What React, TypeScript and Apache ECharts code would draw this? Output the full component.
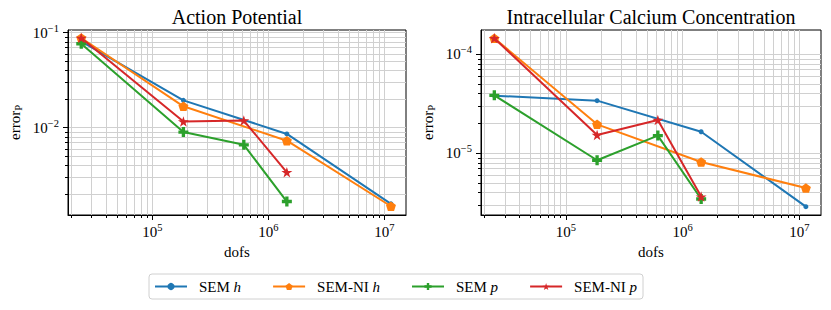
import React, { useEffect, useRef } from "react";
import * as echarts from "echarts";

const FONT = "'Liberation Serif', 'Times New Roman', serif";

const dofsH = [24389, 185193, 1442897, 11390625];
const dofsP = [24389, 185193, 614125, 1442897];

const apSemH = [0.081, 0.0194, 0.0086, 0.00158];
const apSemNiH = [0.088, 0.0168, 0.0073, 0.00149];
const apSemP = [0.0766, 0.009, 0.0066, 0.00167];
const apSemNiP = [0.088, 0.0116, 0.0119, 0.00339];

const caSemH = [3.82e-5, 3.4e-5, 1.65e-5, 2.89e-6];
const caSemNiH = [1.45e-4, 1.96e-5, 8.17e-6, 4.45e-6];
const caSemP = [3.85e-5, 8.5e-6, 1.51e-5, 3.45e-6];
const caSemNiP = [1.45e-4, 1.53e-5, 2.17e-5, 3.65e-6];

const xMajor = [1e5, 1e6, 1e7];
const xMinor = [
  2e4, 3e4, 4e4, 5e4, 6e4, 7e4, 8e4, 9e4,
  2e5, 3e5, 4e5, 5e5, 6e5, 7e5, 8e5, 9e5,
  2e6, 3e6, 4e6, 5e6, 6e6, 7e6, 8e6, 9e6,
];
const yMajorAP = [1e-2, 1e-1];
const yMinorAP = [
  2e-3, 3e-3, 4e-3, 5e-3, 6e-3, 7e-3, 8e-3, 9e-3,
  2e-2, 3e-2, 4e-2, 5e-2, 6e-2, 7e-2, 8e-2, 9e-2,
];
const yMajorCA = [1e-5, 1e-4];
const yMinorCA = [
  3e-6, 4e-6, 5e-6, 6e-6, 7e-6, 8e-6, 9e-6,
  2e-5, 3e-5, 4e-5, 5e-5, 6e-5, 7e-5, 8e-5, 9e-5,
];

const titles = ["Action Potential", "Intracellular Calcium Concentration"];
const names = ["SEM h", "SEM-NI h", "SEM p", "SEM-NI p"];
const colors = ["#1f77b4", "#ff7f0e", "#2ca02c", "#d62728"];

const STAR =
  "path://M0,-1L0.2245,-0.309L0.951,-0.309L0.363,0.118L0.588,0.809L0,0.382L-0.588,0.809L-0.363,0.118L-0.951,-0.309L-0.2245,-0.309Z";
const PENT = "path://M0,-1L0.951,-0.309L0.588,0.809L-0.588,0.809L-0.951,-0.309Z";
const PLUS =
  "path://M-1,-3L-1,-1L-3,-1L-3,1L-1,1L-1,3L1,3L1,1L3,1L3,-1L1,-1L1,-3Z";

const symbols: any[] = ["circle", PENT, PLUS, STAR];
const symbolSizes: any[] = [5, [10, 9.5], 10, [11, 10.5]];

const GRID_COLOR = "#d0d0d0";

const supFormatter = (v: number) => {
  const e = Math.round(Math.log10(v));
  return "{b|10}{s|" + (e < 0 ? "\u2212" : "") + Math.abs(e) + "}";
};
const tickRich = {
  b: { fontSize: 15, fontFamily: FONT, color: "#000" },
  s: { fontSize: 10.5, fontFamily: FONT, color: "#000", padding: [0, 0, 9, 0] },
};

export default function App() {
  const ref = useRef<HTMLDivElement>(null);
  useEffect(() => {
    if (!ref.current) return;
    const chart = echarts.init(ref.current, undefined, { renderer: "svg" });

    const grids = [
      { left: 68, top: 30, width: 338, height: 185 },
      { left: 481, top: 30, width: 340, height: 185 },
    ];
    const xMin = 18750;
    const xMax = 1.535e7;
    const yRanges = [
      [1.205e-3, 0.1068],
      [2.38e-6, 1.759e-4],
    ];
    const yMajors = [yMajorAP, yMajorCA];
    const yMinors = [yMinorAP, yMinorCA];

    const xAxes: any[] = [];
    const yAxes: any[] = [];
    for (let g = 0; g < 2; g++) {
      xAxes.push({
        type: "log",
        logBase: 10,
        gridIndex: g,
        position: "bottom",
        min: xMin,
        max: xMax,
        name: "dofs",
        nameLocation: "middle",
        nameGap: 27,
        nameTextStyle: { fontFamily: FONT, fontSize: 15, color: "#000" },
        axisLine: { show: true, lineStyle: { color: "#000", width: 1 } },
        axisTick: { show: true, length: 5, customValues: xMajor, lineStyle: { color: "#000" } },
        axisLabel: {
          show: true,
          customValues: xMajor,
          margin: 7,
          fontFamily: FONT,
          fontSize: 15,
          color: "#000",
          formatter: supFormatter,
          rich: tickRich,
        },
        splitLine: { show: true, lineStyle: { color: GRID_COLOR, width: 1 } },
        minorTick: { show: false },
        z: 3,
      });
      xAxes.push({
        type: "log",
        logBase: 10,
        gridIndex: g,
        position: "bottom",
        min: xMin,
        max: xMax,
        axisLine: { show: false },
        axisTick: { show: true, length: 3, customValues: xMinor, lineStyle: { color: "#000" } },
        axisLabel: { show: false },
        splitLine: { show: true, lineStyle: { color: GRID_COLOR, width: 1 } },
        z: 2,
      });
      yAxes.push({
        type: "log",
        logBase: 10,
        gridIndex: g,
        position: "left",
        min: yRanges[g][0],
        max: yRanges[g][1],
        name: "error{sub|P}",
        nameLocation: "middle",
        nameRotate: 90,
        nameGap: 44,
        nameTextStyle: {
          fontFamily: FONT,
          fontSize: 15,
          color: "#000",
          rich: {
            sub: { fontFamily: FONT, fontSize: 10.5, color: "#000", padding: [7, 0, 0, 0] },
          },
        },
        axisLine: { show: true, lineStyle: { color: "#000", width: 1 } },
        axisTick: { show: true, length: 5, customValues: yMajors[g], lineStyle: { color: "#000" } },
        axisLabel: {
          show: true,
          customValues: yMajors[g],
          margin: 9,
          fontFamily: FONT,
          fontSize: 15,
          color: "#000",
          formatter: supFormatter,
          rich: tickRich,
        },
        splitLine: { show: true, lineStyle: { color: GRID_COLOR, width: 1 } },
        z: 3,
      });
      yAxes.push({
        type: "log",
        logBase: 10,
        gridIndex: g,
        position: "left",
        min: yRanges[g][0],
        max: yRanges[g][1],
        axisLine: { show: false },
        axisTick: { show: true, length: 3, customValues: yMinors[g], lineStyle: { color: "#000" } },
        axisLabel: { show: false },
        splitLine: { show: true, lineStyle: { color: GRID_COLOR, width: 1 } },
        z: 2,
      });
    }

    const dataSets = [
      [apSemH, apSemNiH, apSemP, apSemNiP],
      [caSemH, caSemNiH, caSemP, caSemNiP],
    ];
    const series: any[] = [];
    for (let g = 0; g < 2; g++) {
      for (let i = 0; i < 4; i++) {
        const xs = i < 2 ? dofsH : dofsP;
        series.push({
          type: "line",
          name: names[i],
          xAxisIndex: g * 2,
          yAxisIndex: g * 2,
          data: xs.map((x, k) => [x, dataSets[g][i][k]]),
          symbol: symbols[i],
          symbolSize: symbolSizes[i],
          showAllSymbol: true,
          color: colors[i],
          lineStyle: { width: 2, color: colors[i] },
          itemStyle: { color: colors[i] },
          z: 5 + i,
        });
      }
    }

    chart.setOption({
      animation: false,
      backgroundColor: "#fff",
      textStyle: { fontFamily: FONT },
      grid: grids.map((gr) => ({
        ...gr,
        show: true,
        borderColor: "#000",
        borderWidth: 1,
        backgroundColor: "transparent",
        containLabel: false,
      })),
      xAxis: xAxes,
      yAxis: yAxes,
      legend: {
        left: 149,
        top: 274,
        orient: "horizontal",
        padding: [5, 6, 5, 5],
        borderColor: "#d0d0d0",
        borderWidth: 1,
        borderRadius: 3,
        itemWidth: 32,
        itemHeight: 9,
        itemGap: 31,
        data: names,
        formatter: (n: string) => n.replace(/ ([hp])$/, " {i|$1}"),
        textStyle: {
          fontFamily: FONT,
          fontSize: 15,
          color: "#000",
          padding: [0, 0, 0, 7],
          rich: {
            i: { fontFamily: FONT, fontSize: 15, fontStyle: "italic", color: "#000" },
          },
        },
      },
      graphic: [
        {
          type: "text",
          x: 237,
          y: 16.5,
          style: {
            text: titles[0],
            fontFamily: FONT,
            fontSize: 20,
            fill: "#000",
            textAlign: "center",
            textVerticalAlign: "middle",
          },
        },
        {
          type: "text",
          x: 651,
          y: 16.5,
          style: {
            text: titles[1],
            fontFamily: FONT,
            fontSize: 20,
            fill: "#000",
            textAlign: "center",
            textVerticalAlign: "middle",
          },
        },
      ],
      series,
    });
    return () => chart.dispose();
  }, []);
  return (
    <div
      ref={ref}
      style={{ position: "fixed", left: 0, top: 0, width: 831, height: 310 }}
    />
  );
}
